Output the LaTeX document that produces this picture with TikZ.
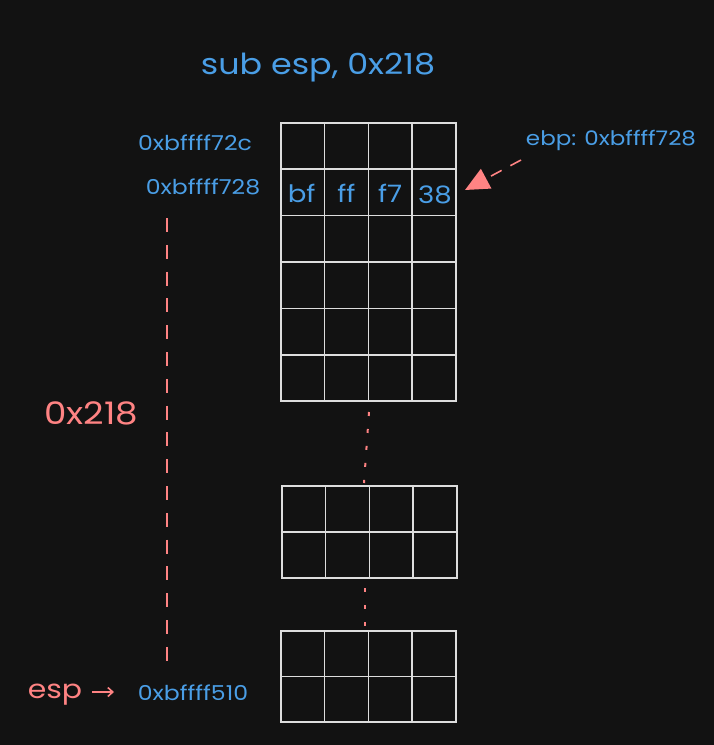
\documentclass[tikz,border=0pt]{standalone}
\usepackage{fontspec}
\setmainfont{Poppins}
\newfontfamily\hand[FakeStretch=1.15]{Poppins}
\usetikzlibrary{arrows.meta}
\definecolor{bg}{HTML}{121212}
\definecolor{lblue}{HTML}{4A9EE6}
\definecolor{lred}{HTML}{FF8383}
\definecolor{grid}{HTML}{DDDDDD}
\begin{document}
\begin{tikzpicture}[x=1pt,y=-1pt,
  cell/.style={draw=grid,line width=1.6pt,minimum width=44pt,minimum height=46pt,inner sep=0pt,anchor=north west},
  blab/.style={text=lblue,font=\hand\fontsize{20.5}{20.5}\selectfont,inner sep=0pt},
  vlab/.style={text=lblue,font=\hand\fontsize{24}{24}\selectfont,inner sep=0pt},
  rlab/.style={text=lred,inner sep=0pt},
  dots/.style={draw=lred,line width=2pt,dash pattern=on 4pt off 13pt},
  dashline/.style={draw=lred,line width=1.6pt,dash pattern=on 14pt off 12.8pt}]
\fill[bg] (0,0) rectangle (714,745);
\useasboundingbox (0,0) rectangle (714,745);
% grid 1
\foreach \r in {0,...,5}{
  \foreach \c in {0,...,3}{
    \node[cell,minimum width=43.75pt,minimum height=46.4pt] (a\r\c) at ({280+43.75*\c},{122+46.4*\r}) {};
  }}
% grid 2
\foreach \r in {0,1}{
  \foreach \c in {0,...,3}{
    \node[cell,minimum width=43.75pt,minimum height=46pt] (b\r\c) at ({281+43.75*\c},{485+46*\r}) {};
  }}
% grid 3
\foreach \r in {0,1}{
  \foreach \c in {0,...,3}{
    \node[cell,minimum width=43.75pt,minimum height=45.5pt] (g\r\c) at ({280+43.75*\c},{630+45.5*\r}) {};
  }}
% cell values
\node[vlab] at ([xshift=-1pt,yshift=-1pt]a10.center) {bf};
\node[vlab] at ([yshift=-1pt]a11.center) {ff};
\node[vlab] at ([yshift=-1pt]a12.center) {f7};
\node[vlab] at ([xshift=1pt,yshift=-2pt]a13.center) {38};
% dotted connectors
\coordinate (d1a) at (369,412);
\coordinate (d1b) at (364,483);
\coordinate (d2a) at (365,588);
\coordinate (d2b) at (365,628);
\draw[dots] (d1a) -- (d1b);
\draw[dots] (d2a) -- (d2b);
% title
\node[text=lblue,font=\hand\fontsize{29}{29}\selectfont,inner sep=0pt] (title) at (318,68) {sub esp, 0x218};
% address labels
\node[blab] (adr1) at (195,143) {0xbffff72c};
\node[blab] (adr2) at (203,187) {0xbffff728};
\node[blab] (adr3) at (193,693) {0xbffff510};
\node[blab,font=\hand\fontsize{20}{20}\selectfont] (ebp) at (611,140) {ebp: 0xbffff728};
% span line
\coordinate (s1) at (167,218);
\coordinate (s2) at (167,662);
\draw[dashline] (s1) -- (s2);
\node[rlab,font=\hand\fontsize{31}{31}\selectfont] (size) at (91,413) {0x218};
% esp
\node[rlab,font=\hand\fontsize{26}{26}\selectfont] (esp) at (55,695) {esp};
\coordinate (ea) at (92,692);
\coordinate (eb) at (114,692);
\draw[lred,line width=1.6pt,-{Straight Barb[length=5pt,width=9pt]}] (ea) -- (eb);
% ebp arrow
\coordinate (pa) at (521,160);
\coordinate (pb) at (465,190);
\draw[lred,line width=1.6pt,dash pattern=on 12pt off 10pt,-{Triangle[length=24pt,width=22pt]}] (pa) -- (pb);
\end{tikzpicture}
\end{document}
